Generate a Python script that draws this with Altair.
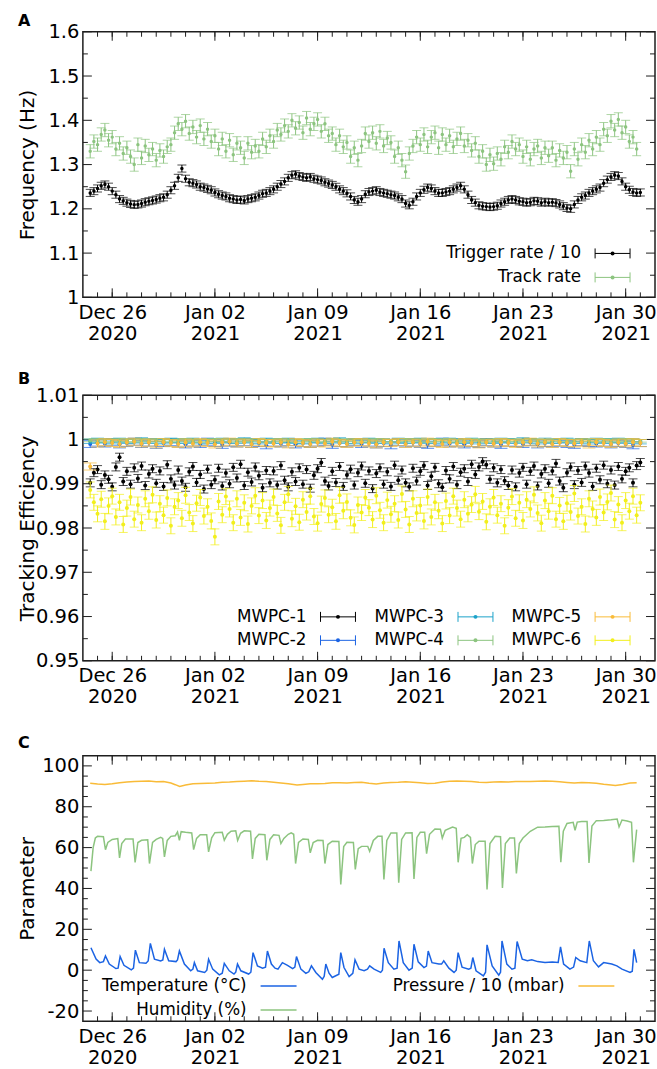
import altair as alt
import pandas as pd

# ============================================================ data
SAMPLE_START = "2020-12-24 12:00"          # first sample of the regular series
DAY0 = pd.Timestamp("2020-12-24 00:00")    # day offsets below are counted from here

# --- Panel A: rates, one sample every 6 h
trigger_rate_div10 = [
    1.236, 1.240,
    1.246, 1.252, 1.255, 1.250, 1.240, 1.232, 1.222, 1.218, 1.214, 1.211, 1.209, 1.210,
    1.212, 1.215, 1.217, 1.219, 1.221, 1.224, 1.226, 1.232, 1.242, 1.252, 1.270, 1.291,
    1.268, 1.260, 1.258, 1.255, 1.250, 1.248, 1.245, 1.242, 1.237, 1.233, 1.230, 1.228,
    1.224, 1.222, 1.220, 1.221, 1.219, 1.222, 1.224, 1.226, 1.230, 1.234, 1.236, 1.240,
    1.244, 1.250, 1.256, 1.262, 1.270, 1.276, 1.278, 1.274, 1.272, 1.270, 1.272, 1.268,
    1.266, 1.264, 1.260, 1.257, 1.254, 1.250, 1.244, 1.240, 1.235, 1.228, 1.220, 1.216,
    1.222, 1.233, 1.238, 1.240, 1.242, 1.238, 1.236, 1.234, 1.232, 1.230, 1.226, 1.222,
    1.212, 1.208, 1.216, 1.228, 1.236, 1.243, 1.248, 1.246, 1.240, 1.236, 1.236, 1.238,
    1.240, 1.244, 1.248, 1.252, 1.244, 1.232, 1.220, 1.214, 1.208, 1.206, 1.205, 1.204,
    1.205, 1.207, 1.212, 1.216, 1.220, 1.222, 1.220, 1.217, 1.216, 1.214, 1.215, 1.218,
    1.217, 1.214, 1.216, 1.214, 1.215, 1.213, 1.210, 1.206, 1.202, 1.200, 1.210, 1.220,
    1.226, 1.230, 1.236, 1.240, 1.244, 1.248, 1.258, 1.266, 1.272, 1.276, 1.274, 1.262,
    1.250, 1.243, 1.238, 1.236, 1.237,
]
track_rate = [
    1.330, 1.352,
    1.345, 1.368, 1.378, 1.355, 1.362, 1.335, 1.348, 1.325, 1.338, 1.318, 1.300, 1.345,
    1.315, 1.342, 1.322, 1.335, 1.310, 1.332, 1.318, 1.340, 1.345, 1.372, 1.392, 1.380,
    1.398, 1.370, 1.385, 1.362, 1.388, 1.358, 1.380, 1.352, 1.365, 1.335, 1.358, 1.330,
    1.355, 1.322, 1.348, 1.338, 1.315, 1.348, 1.328, 1.342, 1.330, 1.358, 1.340, 1.365,
    1.352, 1.378, 1.368, 1.388, 1.375, 1.400, 1.382, 1.395, 1.372, 1.405, 1.380, 1.392,
    1.402, 1.375, 1.392, 1.365, 1.370, 1.345, 1.365, 1.340, 1.350, 1.318, 1.338, 1.310,
    1.342, 1.370, 1.352, 1.372, 1.348, 1.375, 1.342, 1.360, 1.350, 1.318, 1.338, 1.310,
    1.284, 1.325, 1.342, 1.362, 1.345, 1.368, 1.340, 1.362, 1.372, 1.338, 1.368, 1.345,
    1.365, 1.340, 1.358, 1.370, 1.342, 1.355, 1.332, 1.348, 1.318, 1.330, 1.300, 1.322,
    1.302, 1.325, 1.312, 1.340, 1.328, 1.352, 1.335, 1.345, 1.318, 1.340, 1.312, 1.335,
    1.342, 1.315, 1.338, 1.320, 1.338, 1.310, 1.332, 1.315, 1.328, 1.285, 1.335, 1.312,
    1.345, 1.328, 1.355, 1.335, 1.362, 1.345, 1.380, 1.365, 1.398, 1.378, 1.402, 1.372,
    1.385, 1.352, 1.362, 1.335,
]
TRIGGER_ERR = 0.008
TRACK_ERR = 0.015

# --- Panel B: tracking efficiencies
mwpc1 = [  # every 6 h
    0.9902, 0.9925,
    0.9932, 0.9898, 0.9920, 0.9910, 0.9893, 0.9938, 0.9960, 0.9905, 0.9928, 0.9899, 0.9936, 0.9912,
    0.9940, 0.9896, 0.9922, 0.9934, 0.9901, 0.9929, 0.9894, 0.9943, 0.9911, 0.9897, 0.9931, 0.9906,
    0.9892, 0.9927, 0.9939, 0.9903, 0.9921, 0.9888, 0.9933, 0.9898, 0.9909, 0.9935, 0.9895, 0.9924,
    0.9900, 0.9937, 0.9913, 0.9944, 0.9896, 0.9926, 0.9904, 0.9938, 0.9918, 0.9891, 0.9930, 0.9902,
    0.9929, 0.9897, 0.9941, 0.9908, 0.9893, 0.9927, 0.9905, 0.9936, 0.9899, 0.9932, 0.9890, 0.9919,
    0.9934, 0.9948, 0.9906, 0.9895, 0.9928, 0.9903, 0.9939, 0.9894, 0.9920, 0.9933, 0.9897, 0.9925,
    0.9940, 0.9901, 0.9929, 0.9889, 0.9923, 0.9936, 0.9899, 0.9927, 0.9894, 0.9942, 0.9908, 0.9931,
    0.9902, 0.9893, 0.9935, 0.9906, 0.9928, 0.9941, 0.9896, 0.9917, 0.9937, 0.9900, 0.9892, 0.9930,
    0.9911, 0.9939, 0.9898, 0.9926, 0.9934, 0.9905, 0.9944, 0.9921, 0.9938, 0.9950, 0.9943, 0.9910,
    0.9936, 0.9902, 0.9932, 0.9907, 0.9896, 0.9931, 0.9893, 0.9924, 0.9937, 0.9899, 0.9928, 0.9940,
    0.9895, 0.9922, 0.9934, 0.9901, 0.9929, 0.9946, 0.9906, 0.9891, 0.9925, 0.9938, 0.9898, 0.9930,
    0.9903, 0.9940, 0.9924, 0.9894, 0.9935, 0.9909, 0.9942, 0.9900, 0.9931, 0.9897, 0.9939, 0.9911,
    0.9928, 0.9936, 0.9902, 0.9941, 0.9948,
]
mwpc6 = [  # every 6 h
    0.9886, 0.9858,
    0.9832, 0.9865, 0.9815, 0.9850, 0.9872, 0.9825, 0.9858, 0.9808, 0.9845, 0.9870, 0.9820, 0.9852,
    0.9812, 0.9866, 0.9838, 0.9875, 0.9818, 0.9855, 0.9829, 0.9868, 0.9805, 0.9848, 0.9862, 0.9822,
    0.9874, 0.9835, 0.9810, 0.9856, 0.9869, 0.9827, 0.9848, 0.9816, 0.9780, 0.9860, 0.9830, 0.9871,
    0.9843, 0.9812, 0.9866, 0.9824, 0.9857, 0.9809, 0.9850, 0.9873, 0.9828, 0.9862, 0.9817, 0.9845,
    0.9870, 0.9833, 0.9806, 0.9858, 0.9876, 0.9821, 0.9849, 0.9813, 0.9864, 0.9836, 0.9872, 0.9826,
    0.9811, 0.9854, 0.9868, 0.9830, 0.9847, 0.9815, 0.9874, 0.9839, 0.9859, 0.9823, 0.9807, 0.9852,
    0.9835, 0.9869, 0.9846, 0.9819, 0.9873, 0.9840, 0.9812, 0.9863, 0.9831, 0.9855, 0.9818, 0.9877,
    0.9842, 0.9808, 0.9866, 0.9834, 0.9851, 0.9816, 0.9870, 0.9825, 0.9858, 0.9839, 0.9810, 0.9861,
    0.9828, 0.9872, 0.9845, 0.9820, 0.9864, 0.9832, 0.9853, 0.9876, 0.9837, 0.9860, 0.9814, 0.9848,
    0.9869, 0.9829, 0.9855, 0.9805, 0.9846, 0.9871, 0.9822, 0.9857, 0.9817, 0.9864, 0.9843, 0.9875,
    0.9834, 0.9811, 0.9862, 0.9838, 0.9873, 0.9820, 0.9851, 0.9815, 0.9856, 0.9836, 0.9878, 0.9827,
    0.9848, 0.9809, 0.9866, 0.9843, 0.9824, 0.9870, 0.9835, 0.9859, 0.9879, 0.9819, 0.9853, 0.9812,
    0.9862, 0.9838, 0.9872, 0.9829, 0.9857,
]
mwpc2 = [  # every 12 h
    0.9990, 0.9993, 0.9991, 0.9994, 0.9989, 0.9992, 0.9995, 0.9990, 0.9993, 0.9988,
    0.9992, 0.9994, 0.9991, 0.9989, 0.9993, 0.9990, 0.9995, 0.9992, 0.9988, 0.9993,
    0.9991, 0.9994, 0.9990, 0.9992, 0.9987, 0.9993, 0.9991, 0.9994, 0.9989, 0.9992,
    0.9990, 0.9993, 0.9995, 0.9988, 0.9992, 0.9991, 0.9994, 0.9990, 0.9993, 0.9989,
    0.9992, 0.9987, 0.9994, 0.9991, 0.9993, 0.9990, 0.9988, 0.9992, 0.9995, 0.9991,
    0.9993, 0.9989, 0.9992, 0.9990, 0.9994, 0.9991, 0.9988, 0.9993, 0.9992, 0.9990,
    0.9994, 0.9989, 0.9992, 0.9991, 0.9993, 0.9990, 0.9988, 0.9994, 0.9992, 0.9991,
    0.9993, 0.9989, 0.9992, 0.9990, 0.9987, 0.9992,
]
mwpc3 = [  # every 12 h
    0.9996, 0.9998, 0.9997, 0.9995, 0.9998, 0.9996, 0.9997, 0.9999, 0.9996, 0.9997,
    0.9995, 0.9998, 0.9997, 0.9996, 0.9998, 0.9995, 0.9997, 0.9996, 0.9998, 0.9997,
    0.9996, 0.9999, 0.9997, 0.9995, 0.9998, 0.9996, 0.9997, 0.9998, 0.9996, 0.9995,
    0.9997, 0.9998, 0.9996, 0.9997, 0.9999, 0.9996, 0.9995, 0.9997, 0.9998, 0.9996,
    0.9997, 0.9995, 0.9998, 0.9996, 0.9997, 0.9998, 0.9996, 0.9997, 0.9995, 0.9998,
    0.9997, 0.9996, 0.9998, 0.9995, 0.9997, 0.9996, 0.9998, 0.9997, 0.9996, 0.9999,
    0.9997, 0.9995, 0.9998, 0.9996, 0.9997, 0.9998, 0.9996, 0.9997, 0.9995, 0.9998,
    0.9996, 0.9997, 0.9998, 0.9996, 0.9997, 0.9995,
]
mwpc4 = [  # every 12 h
    0.9998, 0.9999, 0.9997, 0.9998, 0.9999, 0.9998, 0.9997, 0.9999, 0.9998, 0.9998,
    0.9999, 0.9997, 0.9998, 0.9999, 0.9998, 0.9997, 0.9998, 0.9999, 0.9998, 0.9997,
    0.9999, 0.9998, 0.9998, 0.9999, 0.9997, 0.9998, 0.9999, 0.9998, 0.9997, 0.9998,
    0.9999, 0.9998, 0.9997, 0.9999, 0.9998, 0.9998, 0.9999, 0.9997, 0.9998, 0.9999,
    0.9998, 0.9997, 0.9998, 0.9999, 0.9998, 0.9998, 0.9997, 0.9999, 0.9998, 0.9999,
    0.9997, 0.9998, 0.9999, 0.9998, 0.9997, 0.9998, 0.9999, 0.9998, 0.9998, 0.9997,
    0.9999, 0.9998, 0.9997, 0.9998, 0.9999, 0.9998, 0.9997, 0.9999, 0.9998, 0.9998,
    0.9999, 0.9997, 0.9998, 0.9999, 0.9998, 0.9997,
]
mwpc5 = [  # every 12 h
    0.9939, 0.9991, 0.9994, 0.9992, 0.9990, 0.9993, 0.9995, 0.9991, 0.9993, 0.9989,
    0.9994, 0.9992, 0.9990, 0.9993, 0.9991, 0.9994, 0.9992, 0.9989, 0.9993, 0.9995,
    0.9991, 0.9993, 0.9990, 0.9994, 0.9992, 0.9991, 0.9993, 0.9989, 0.9994, 0.9992,
    0.9990, 0.9993, 0.9991, 0.9995, 0.9992, 0.9990, 0.9993, 0.9994, 0.9991, 0.9989,
    0.9993, 0.9992, 0.9994, 0.9990, 0.9993, 0.9991, 0.9995, 0.9992, 0.9990, 0.9993,
    0.9991, 0.9994, 0.9992, 0.9989, 0.9993, 0.9991, 0.9994, 0.9992, 0.9990, 0.9993,
    0.9995, 0.9991, 0.9993, 0.9990, 0.9994, 0.9992, 0.9991, 0.9993, 0.9989, 0.9994,
    0.9992, 0.9990, 0.9993, 0.9991, 0.9994, 0.9992,
]
MWPC_ERR = {"MWPC-1": 0.0009, "MWPC-2": 0.0008, "MWPC-3": 0.0005,
            "MWPC-4": 0.0003, "MWPC-5": 0.0008, "MWPC-6": 0.0018}

# --- Panel C: environment (day offset from Dec 24 00:00, value)
temp_days = [
    0.55, 0.9, 1.15, 1.4, 1.54, 1.8, 2.25, 2.4, 2.54, 2.8,
    3.3, 3.45, 3.58, 3.85, 4.3, 4.45, 4.6, 4.88, 5.3, 5.45,
    5.56, 5.85, 6.35, 6.45, 6.58, 6.92, 7.35, 7.5, 7.6, 7.82,
    8.3, 8.45, 8.57, 8.85, 9.3, 9.5, 9.64, 9.98, 10.3, 10.42,
    10.54, 10.77, 11.3, 11.45, 11.6, 11.9, 12.25, 12.45, 12.58, 12.85,
    13.1, 13.3, 13.6, 13.95, 14.3, 14.45, 14.56, 14.86, 15.2, 15.4,
    15.58, 15.88, 16.33, 16.45, 16.56, 16.78, 17.0, 17.45, 17.58, 17.8,
    18.15, 18.4, 18.55, 18.83, 19.17, 19.4, 19.55, 19.85, 20.3, 20.42,
    20.53, 20.82, 21.2, 21.42, 21.55, 21.84, 22.23, 22.45, 22.57, 22.86,
    23.25, 23.42, 23.54, 23.8, 24.27, 24.45, 24.6, 24.95, 25.3, 25.45,
    25.58, 25.85, 26.3, 26.45, 26.58, 26.8, 27.3, 27.45, 27.55, 27.9,
    28.35, 28.47, 28.57, 28.9, 29.25, 29.45, 29.6, 29.95, 30.3, 30.6,
    31.0, 31.5, 32.0, 32.4, 32.56, 32.77, 33.2, 33.45, 33.6, 33.9,
    34.35, 34.52, 34.8, 35.15, 35.5, 36.05, 36.4, 36.75, 37.3, 37.45,
    37.57, 37.75,
]
temperature = [
    11.0, 5.4, 3.7, 4.2, 7.0, 3.0, 0.8, 1.0, 6.7, 2.4,
    0.2, 1.0, 9.8, 3.7, 3.4, 4.5, 13.1, 5.4, 4.5, 5.0,
    10.2, 4.6, 4.2, 5.0, 9.4, 3.0, -0.3, 0.5, 3.7, -0.3,
    -1.1, 0.0, 5.4, 0.5, -2.3, -1.5, 3.3, -0.3, -1.9, -1.0,
    3.0, -0.3, -1.9, -1.0, 8.6, 2.1, 1.0, 1.5, 9.4, 3.0,
    1.0, 0.5, 3.7, 2.4, 0.8, 1.5, 6.7, 0.5, -1.5, -0.8,
    2.1, -1.1, -4.4, -3.0, 3.0, -1.5, -3.6, -2.0, 8.6, 1.3,
    -3.1, -1.5, 5.1, 0.5, -0.3, 0.5, 2.1, 0.5, -1.1, 0.0,
    10.7, 3.7, 0.5, 1.0, 14.3, 3.7, 0.0, 1.0, 12.7, 4.1,
    1.3, 2.0, 9.4, 3.7, 3.0, 3.0, 4.6, 1.0, -1.1, 0.0,
    8.6, 1.5, 0.5, 1.0, 6.2, -0.3, -2.8, -1.0, 12.4, 2.1,
    -2.4, -1.0, 14.3, 3.0, 0.5, 1.0, 14.0, 5.4, 4.6, 5.1,
    4.2, 3.8, 4.0, 3.8, 11.4, 3.0, 0.5, 1.5, 6.2, 4.6,
    3.7, 14.3, 4.6, 1.6, 3.7, 3.0, 2.1, 0.5, -1.1, -0.5,
    10.2, 3.7,
]
hum_days = [
    0.55, 0.7, 0.85, 1.0, 1.4, 1.54, 1.7, 2.0, 2.38, 2.5,
    2.65, 2.9, 3.42, 3.56, 3.75, 4.0, 4.42, 4.54, 4.75, 5.0,
    5.3, 5.44, 5.56, 5.75, 6.0, 6.3, 6.45, 6.58, 6.7, 7.0,
    7.42, 7.55, 7.75, 8.0, 8.44, 8.57, 8.78, 9.0, 9.5, 9.64,
    9.85, 10.1, 10.42, 10.55, 10.75, 11.0, 11.43, 11.56, 11.75, 12.0,
    12.41, 12.54, 12.75, 13.0, 13.37, 13.5, 13.7, 14.0, 14.2, 14.37,
    14.5, 14.7, 15.0, 15.37, 15.5, 15.7, 16.0, 16.37, 16.5, 16.7,
    17.0, 17.45, 17.58, 17.78, 18.0, 18.44, 18.57, 18.77, 19.0, 19.42,
    19.55, 19.8, 20.1, 20.39, 20.52, 20.72, 21.0, 21.4, 21.53, 21.73,
    22.0, 22.44, 22.57, 22.77, 23.0, 23.3, 23.43, 23.63, 24.0, 24.37,
    24.5, 24.7, 25.2, 25.45, 25.58, 25.78, 26.0, 26.2, 26.42, 26.55,
    26.75, 27.0, 27.42, 27.55, 27.75, 28.1, 28.47, 28.6, 28.8, 29.1,
    29.42, 29.55, 29.75, 30.0, 30.5, 31.0, 31.5, 32.0, 32.45, 32.58,
    32.75, 33.0, 33.42, 33.55, 33.7, 34.0, 34.37, 34.5, 34.7, 35.0,
    35.5, 36.0, 36.42, 36.55, 36.75, 37.1, 37.4, 37.53, 37.75,
]
humidity = [
    48.5, 60.0, 64.7, 65.5, 65.3, 59.0, 62.5, 64.0, 64.4, 55.0,
    62.0, 64.2, 64.2, 52.8, 62.5, 63.6, 63.8, 52.2, 62.5, 64.0,
    65.0, 64.5, 55.4, 63.5, 65.5, 65.8, 67.6, 63.6, 67.8, 67.5,
    67.2, 59.0, 64.5, 66.3, 66.3, 57.9, 64.8, 67.3, 67.5, 63.6,
    66.5, 68.0, 68.2, 63.5, 67.0, 68.2, 68.0, 54.5, 64.5, 66.5,
    66.3, 53.8, 64.0, 66.3, 66.0, 62.0, 64.5, 66.5, 67.2, 66.5,
    52.2, 62.5, 64.2, 64.0, 57.4, 62.5, 63.6, 63.5, 52.2, 61.5,
    63.1, 63.0, 42.0, 60.5, 62.6, 62.5, 49.3, 59.5, 60.6, 60.6,
    58.2, 63.5, 65.5, 65.5, 44.4, 63.5, 67.2, 67.2, 42.8, 64.0,
    67.2, 67.3, 44.7, 65.0, 67.5, 67.5, 57.0, 66.5, 69.1, 69.0,
    64.7, 68.5, 70.1, 69.5, 52.8, 64.5, 65.0, 66.3, 65.0, 52.2,
    61.5, 63.1, 63.1, 39.5, 62.0, 65.5, 65.3, 40.3, 62.0, 64.7,
    64.7, 47.3, 62.0, 64.7, 68.0, 70.0, 70.1, 70.3, 70.4, 52.8,
    68.0, 71.8, 72.4, 68.5, 72.5, 72.8, 72.8, 52.5, 70.5, 73.2,
    73.3, 73.6, 74.0, 70.1, 73.5, 73.0, 72.4, 52.8, 68.8,
]
pres_days = [
    0.5, 1.0, 1.5, 2.0, 2.5, 3.0, 3.5, 4.0, 4.5, 5.0, 5.5, 6.0, 6.3, 6.6,
    7.0, 7.5, 8.0, 8.5, 9.0, 9.5, 10.0, 10.5, 11.0, 11.5, 12.0, 12.5, 13.0, 13.5, 14.0,
    14.6, 15.0, 15.5, 16.0, 16.5, 17.0, 17.5, 18.0, 18.5, 19.0, 19.5, 20.0, 20.5, 21.0,
    21.5, 22.0, 22.5, 23.0, 23.5, 24.0, 24.5, 25.0, 25.5, 26.0, 26.5, 27.0, 27.5, 28.0,
    28.5, 29.0, 29.5, 30.0, 30.5, 31.0, 31.5, 32.0, 32.5, 33.0, 33.5, 34.0, 34.5, 35.0,
    35.5, 36.0, 36.3, 36.8, 37.3, 37.75,
]
pressure_div10 = [
    91.5, 91.1, 90.9, 91.2, 91.7, 92.1, 92.4, 92.5, 92.6, 92.2, 92.4, 91.6, 90.8, 89.9,
    90.6, 91.3, 91.4, 91.5, 91.6, 92.0, 92.1, 92.3, 92.5, 92.7, 92.5, 92.4, 92.0, 91.6, 91.2,
    90.6, 90.9, 91.2, 91.3, 91.4, 91.8, 91.8, 91.6, 91.9, 92.0, 91.5, 91.1, 91.6, 91.9,
    92.0, 92.2, 92.0, 91.7, 91.4, 91.5, 92.1, 92.5, 92.6, 92.5, 92.3, 92.0, 91.9, 92.1,
    92.2, 92.1, 92.3, 92.4, 92.3, 92.5, 92.6, 92.5, 92.2, 91.9, 91.6, 91.9, 91.8, 91.5,
    91.0, 90.6, 90.4, 90.9, 91.6, 91.8,
]

# axis tick values
X_MAJOR = pd.date_range("2020-12-26", periods=6, freq="7D")
X_MINOR = pd.date_range("2020-12-25", "2021-01-31", freq="D")
A_Y_MAJOR = [1.0, 1.1, 1.2, 1.3, 1.4, 1.5, 1.6]
A_Y_MINOR = [1.05, 1.15, 1.25, 1.35, 1.45, 1.55]
B_Y_MAJOR = [0.95, 0.96, 0.97, 0.98, 0.99, 1.0, 1.01]
B_Y_MINOR = [0.955, 0.965, 0.975, 0.985, 0.995, 1.005]
C_Y_MAJOR = [-20, 0, 20, 40, 60, 80, 100]
C_Y_MINOR = [-15, -10, -5, 5, 10, 15, 25, 30, 35, 45, 50, 55, 65, 70, 75, 85, 90, 95]

# ============================================================ style / layout
FONT = "DejaVu Sans"
FRAME = "#1e1e1e"
BLACK = "#000000"
GREEN = "#8cc47f"
BLUE = "#1b63e3"
CYAN = "#1ba2c9"
ORANGE = "#f9bb38"
YELLOW = "#f2ef1c"

W, H = 573, 266
MAJ_LEN, MIN_LEN = 9, 5
TICK_FS = 19.5
TITLE_FS = 20
LEG_FS = 16.8
LEG_GAP = 14

x_scale = alt.Scale(domain=[alt.DateTime(year=2020, month=12, date=24),
                            alt.DateTime(year=2021, month=2, date=1)])

x_axis = alt.Axis(
    values=[alt.DateTime(year=d.year, month=d.month, date=d.day) for d in X_MAJOR],
    labelExpr="[timeFormat(datum.value, '%b %d'), timeFormat(datum.value, '%Y')]",
    ticks=False, domain=False, grid=False, labelPadding=6, labelLineHeight=21,
    labelFontSize=TICK_FS, labelAngle=0, labelFlush=False, labelOverlap=False,
    labelAlign="center", labelBaseline="top",
)


def y_axis(values):
    return alt.Axis(values=values, labelExpr="'' + datum.value", ticks=False,
                    domain=False, grid=False, labelPadding=4, labelFontSize=TICK_FS,
                    titleFontSize=TITLE_FS, titleFontWeight="normal", titleX=-49,
                    titleBaseline="alphabetic")


def make_panel_y(domain, major, title):
    return {"scale": alt.Scale(domain=domain, nice=False, zero=False),
            "axis": y_axis(major), "title": title}


def X(field):
    # every layer carries the same axis definition so that the shared axis merges cleanly
    return alt.X(field, scale=x_scale, axis=x_axis, title=None)


def Y(field, py):
    return alt.Y(field, scale=py["scale"], axis=py["axis"], title=py["title"])


def days_to_time(days):
    return [DAY0 + pd.Timedelta(days=d) for d in days]


def regular_times(n, hours):
    return pd.date_range(SAMPLE_START, periods=n, freq=f"{hours}h")


def frame_layers(py, y_major, y_minor):
    """Inward-pointing ticks on all four sides."""
    out = []
    for dates, ln in ((X_MAJOR, MAJ_LEN), (X_MINOR, MIN_LEN)):
        d = alt.Chart(pd.DataFrame({"t": dates}))
        out.append(d.mark_rule(color=FRAME, strokeWidth=1).encode(
            x=X("t:T"), y=alt.value(H), y2=alt.value(H - ln)))
        out.append(d.mark_rule(color=FRAME, strokeWidth=1).encode(
            x=X("t:T"), y=alt.value(0), y2=alt.value(ln)))
    for vals, ln in ((y_major, MAJ_LEN), (y_minor, MIN_LEN)):
        d = alt.Chart(pd.DataFrame({"v": vals}))
        out.append(d.mark_rule(color=FRAME, strokeWidth=1).encode(
            y=Y("v:Q", py), x=alt.value(0), x2=alt.value(ln)))
        out.append(d.mark_rule(color=FRAME, strokeWidth=1).encode(
            y=Y("v:Q", py), x=alt.value(W), x2=alt.value(W - ln)))
    return out


def errorbar_layers(times, vals, err, color, py, cap=9, dot=12):
    df = pd.DataFrame({"t": times, "v": vals})
    df["lo"] = df["v"] - err
    df["hi"] = df["v"] + err
    base = alt.Chart(df)
    bars = base.mark_rule(color=color, strokeWidth=1).encode(
        x=X("t:T"), y=Y("lo:Q", py), y2="hi:Q")
    caps = base.transform_fold(["lo", "hi"], as_=["end", "cap"]).mark_tick(
        color=color, orient="horizontal", size=cap, thickness=1).encode(
        x=X("t:T"), y=Y("cap:Q", py))
    dots = base.mark_circle(color=color, size=dot, opacity=1).encode(
        x=X("t:T"), y=Y("v:Q", py))
    return [bars, caps, dots]


def line_layer(times, vals, color, py):
    df = pd.DataFrame({"t": times, "v": vals})
    return alt.Chart(df).mark_line(color=color, strokeWidth=1.5).encode(
        x=X("t:T"), y=Y("v:Q", py))


ONE = pd.DataFrame({"k": [0]})


def legend_layers(entries, col_x, row_y, sym_len, errorbar):
    """matplotlib-style legend: label on the left, symbol on the right."""
    out = []
    for label, color, col, row in entries:
        sx, sy = col_x[col], row_y[row]
        one = alt.Chart(ONE)
        out.append(one.mark_text(align="right", baseline="middle", font=FONT,
                                 fontSize=LEG_FS, color="black").encode(
            x=alt.value(sx - LEG_GAP), y=alt.value(sy), text=alt.value(label)))
        out.append(one.mark_rule(color=color, strokeWidth=1 if errorbar else 1.5).encode(
            x=alt.value(sx), x2=alt.value(sx + sym_len), y=alt.value(sy)))
        if errorbar:
            for cx in (sx, sx + sym_len):
                out.append(one.mark_rule(color=color, strokeWidth=1).encode(
                    x=alt.value(cx), y=alt.value(sy - 5), y2=alt.value(sy + 5)))
            out.append(one.mark_circle(color=color, size=16, opacity=1).encode(
                x=alt.value(sx + sym_len / 2), y=alt.value(sy)))
    return out


def panel(letter, layers, title_offset):
    return alt.layer(*layers).properties(
        width=W, height=H,
        title=alt.TitleParams(letter, anchor="start", frame="bounds", offset=title_offset,
                              baseline="alphabetic", font=FONT, fontSize=16,
                              fontWeight="bold", color="black"))


# ============================================================ panels
pyA = make_panel_y([1.0, 1.6], A_Y_MAJOR, "Frequency (Hz)")
layers_A = frame_layers(pyA, A_Y_MAJOR, A_Y_MINOR)
layers_A += errorbar_layers(regular_times(len(trigger_rate_div10), 6), trigger_rate_div10,
                            TRIGGER_ERR, BLACK, pyA)
layers_A += errorbar_layers(regular_times(len(track_rate), 6), track_rate,
                            TRACK_ERR, GREEN, pyA)
layers_A += legend_layers([("Trigger rate / 10", BLACK, 0, 0), ("Track rate", GREEN, 0, 1)],
                          col_x=[513], row_y=[222, 246], sym_len=35, errorbar=True)

pyB = make_panel_y([0.95, 1.01], B_Y_MAJOR, "Tracking Efficiency")
series_B = [
    ("MWPC-1", mwpc1, 6, BLACK, 0, 0),
    ("MWPC-2", mwpc2, 12, BLUE, 0, 1),
    ("MWPC-3", mwpc3, 12, CYAN, 1, 0),
    ("MWPC-4", mwpc4, 12, GREEN, 1, 1),
    ("MWPC-5", mwpc5, 12, ORANGE, 2, 0),
    ("MWPC-6", mwpc6, 6, YELLOW, 2, 1),
]
layers_B = frame_layers(pyB, B_Y_MAJOR, B_Y_MINOR)
for name, vals, step, color, _, _ in series_B:
    layers_B += errorbar_layers(regular_times(len(vals), step), vals, MWPC_ERR[name],
                                color, pyB, cap=9 if step == 6 else 13, dot=16)
layers_B += legend_layers([(n, c, col, row) for n, _, _, c, col, row in series_B],
                          col_x=[238, 375.7, 513], row_y=[222, 245.5], sym_len=35,
                          errorbar=True)

pyC = make_panel_y([-25, 105], C_Y_MAJOR, "Parameter")
layers_C = frame_layers(pyC, C_Y_MAJOR, C_Y_MINOR)
layers_C += [
    line_layer(days_to_time(hum_days), humidity, GREEN, pyC),
    line_layer(days_to_time(pres_days), pressure_div10, ORANGE, pyC),
    line_layer(days_to_time(temp_days), temperature, BLUE, pyC),
]
layers_C += legend_layers([("Temperature (°C)", BLUE, 0, 0), ("Humidity (%)", GREEN, 0, 1),
                           ("Pressure / 10 (mbar)", ORANGE, 1, 0)],
                          col_x=[178, 496.3], row_y=[230.7, 254.7], sym_len=36,
                          errorbar=False)

chart = (
    alt.vconcat(panel("A", layers_A, -20), panel("B", layers_B, -15),
                panel("C", layers_C, -9), spacing=26)
    .properties(padding={"left": 17, "top": 11, "right": 0, "bottom": 0}, background="white")
    .configure_view(stroke=FRAME, strokeWidth=1.5)
    .configure_axis(labelFont=FONT, titleFont=FONT, labelColor="black", titleColor="black")
)

chart.save("out.html", embed_options={"renderer": "svg", "actions": False})
